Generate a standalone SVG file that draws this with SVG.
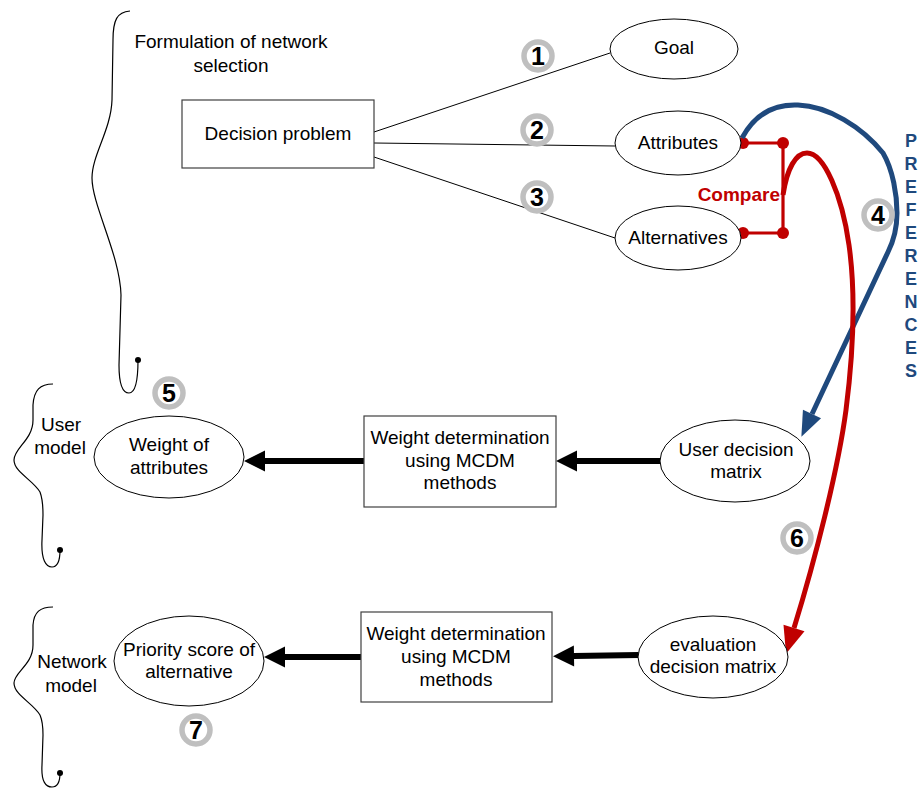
<svg xmlns="http://www.w3.org/2000/svg" width="919" height="790" viewBox="0 0 919 790">
  <style>
    text { font-family: "Liberation Sans", Arial, sans-serif; font-size: 19px; fill: #000; }
    .mid { text-anchor: middle; }
    .box { fill: #fff; stroke: #404040; stroke-width: 1.2; }
    .ell { fill: #fff; stroke: #000; stroke-width: 1; }
    .brace { fill: none; stroke: #000; stroke-width: 1.2; }
    .thin { fill: none; stroke: #000; stroke-width: 1; }
    .flow { fill: none; stroke: #000; stroke-width: 6; stroke-linecap: round; }
    .badge circle { fill: #fff; stroke: #bfbfbf; stroke-width: 5.5; }
    .badge text { font-weight: bold; font-size: 25px; text-anchor: middle; }
    .cmp { fill: none; stroke: #c00000; stroke-width: 3.2; }
    .dot { fill: #c00000; }
    .pref { font-weight: bold; font-size: 18px; fill: #1f497d; text-anchor: middle; }
  </style>
  <defs>
    <marker id="headBlack" markerUnits="userSpaceOnUse" markerWidth="22" markerHeight="22" refX="0" refY="10.5" orient="auto" overflow="visible">
      <path d="M0,0 L21,10.5 L0,21 Z" fill="#000"/>
    </marker>
    <marker id="headBlue" markerUnits="userSpaceOnUse" markerWidth="26" markerHeight="22" refX="0" refY="10" orient="auto" overflow="visible">
      <path d="M0,0 L25,10 L0,20 Z" fill="#1f497d"/>
    </marker>
    <marker id="headRed" markerUnits="userSpaceOnUse" markerWidth="28" markerHeight="24" refX="0" refY="11" orient="auto" overflow="visible">
      <path d="M0,0 L27,11 L0,22 Z" fill="#c00000"/>
    </marker>
  </defs>

  <!-- braces and group labels -->
  <g id="formulation">
    <path class="brace" d="M130,11 C117,12 113,20 113,40 L112,100 C111,130 92,155 92,178 C92,205 120,255 121,295 L119,365 C119,385 123,393 129,393 C136,393 138,378 138,360"/>
    <circle cx="138" cy="360" r="3" fill="#000"/>
    <text class="mid" x="231" y="48">Formulation of network</text>
    <text class="mid" x="231" y="72">selection</text>
  </g>
  <g id="user-model">
    <path class="brace" d="M53,384 C40,384 34,390 33,405 L33,420 C33,440 14,448 14,460 C14,472 33,480 40,492 C43,500 43,507 43,515 L42,540 C41,560 46,567 52,567 C58,567 60,560 60,550"/>
    <circle cx="60" cy="550" r="3" fill="#000"/>
    <text class="mid" x="61" y="431">User</text>
    <text class="mid" x="60" y="454">model</text>
  </g>
  <g id="network-model">
    <path class="brace" d="M53,607 C40,607 34,612 33,625 L33,645 C33,665 14,672 14,683 C14,695 33,703 40,715 C43,722 43,728 43,735 L42,765 C41,782 46,787 52,787 C58,787 60,782 60,773"/>
    <circle cx="60" cy="773" r="3" fill="#000"/>
    <text class="mid" x="72" y="668">Network</text>
    <text class="mid" x="71" y="692">model</text>
  </g>

  <!-- connectors -->
  <g id="connectors">
    <line class="thin" x1="374" y1="132" x2="610" y2="53"/>
    <line class="thin" x1="374" y1="143" x2="615" y2="146"/>
    <line class="thin" x1="374" y1="157" x2="615" y2="238"/>

    <!-- compare bracket -->
    <path class="cmp" d="M743,143 L783,143 L783,233 L743,233"/>
    <circle class="dot" cx="743" cy="143" r="6"/>
    <circle class="dot" cx="783" cy="143" r="6"/>
    <circle class="dot" cx="783" cy="233" r="6"/>
    <circle class="dot" cx="743" cy="233" r="6"/>

    <!-- preferences flow -->
    <path fill="none" stroke="#1f497d" stroke-width="5" d="M742,138 C756,112 776,104 798,105 C828,106 862,127 883,153 C893,170 897,195 897,213 C897,230 893,242 888,252 L812,414" marker-end="url(#headBlue)"/>
    <!-- evaluation flow -->
    <path fill="none" stroke="#c00000" stroke-width="5" d="M783,195 C787,168 796,153 807,153 C824,153 842,195 849,245 C856,295 853,355 846,410 C838,470 815,560 794,628" marker-end="url(#headRed)"/>

    <line class="flow" x1="364" y1="461" x2="265" y2="461" marker-end="url(#headBlack)"/>
    <line class="flow" x1="660" y1="461" x2="577" y2="461" marker-end="url(#headBlack)"/>
    <line class="flow" x1="361" y1="657" x2="285" y2="657" marker-end="url(#headBlack)"/>
    <line class="flow" x1="639" y1="655" x2="574" y2="656" marker-end="url(#headBlack)"/>
  </g>

  <!-- nodes -->
  <g id="decision-problem">
    <rect class="box" x="182" y="100" width="192" height="68"/>
    <text class="mid" x="278" y="140">Decision problem</text>
  </g>
  <g id="goal">
    <ellipse class="ell" cx="674" cy="49" rx="64" ry="30"/>
    <text class="mid" x="674" y="54">Goal</text>
  </g>
  <g id="attributes">
    <ellipse class="ell" cx="678" cy="143" rx="63" ry="32"/>
    <text class="mid" x="678" y="149">Attributes</text>
  </g>
  <g id="alternatives">
    <ellipse class="ell" cx="678" cy="238" rx="63" ry="32"/>
    <text class="mid" x="678" y="244">Alternatives</text>
  </g>
  <g id="compare-label">
    <text x="780" y="201" text-anchor="end" font-weight="bold" style="fill:#c00000">Compare</text>
  </g>
  <g id="preferences-label">
    <text class="pref" x="911" y="147">P</text>
    <text class="pref" x="911" y="170">R</text>
    <text class="pref" x="911" y="193">E</text>
    <text class="pref" x="911" y="216">F</text>
    <text class="pref" x="911" y="239">E</text>
    <text class="pref" x="911" y="262">R</text>
    <text class="pref" x="911" y="285">E</text>
    <text class="pref" x="911" y="308">N</text>
    <text class="pref" x="911" y="331">C</text>
    <text class="pref" x="911" y="354">E</text>
    <text class="pref" x="911" y="377">S</text>
  </g>
  <g id="weight-of-attributes">
    <ellipse class="ell" cx="169" cy="457" rx="75" ry="41"/>
    <text class="mid" x="169" y="451">Weight of</text>
    <text class="mid" x="169" y="474">attributes</text>
  </g>
  <g id="weight-determination-user">
    <rect class="box" x="364" y="416" width="192" height="91"/>
    <text class="mid" x="460" y="444">Weight determination</text>
    <text class="mid" x="460" y="467">using MCDM</text>
    <text class="mid" x="460" y="489">methods</text>
  </g>
  <g id="user-decision-matrix">
    <ellipse class="ell" cx="735" cy="461" rx="75" ry="41"/>
    <text class="mid" x="736" y="456">User decision</text>
    <text class="mid" x="736" y="478">matrix</text>
  </g>
  <g id="priority-score">
    <ellipse class="ell" cx="189" cy="661" rx="75" ry="45"/>
    <text class="mid" x="189" y="656">Priority score of</text>
    <text class="mid" x="189" y="678">alternative</text>
  </g>
  <g id="weight-determination-network">
    <rect class="box" x="361" y="612" width="191" height="90"/>
    <text class="mid" x="456" y="640">Weight determination</text>
    <text class="mid" x="456" y="663">using MCDM</text>
    <text class="mid" x="456" y="686">methods</text>
  </g>
  <g id="evaluation-decision-matrix">
    <ellipse class="ell" cx="713" cy="657" rx="75" ry="41"/>
    <text class="mid" x="713" y="651">evaluation</text>
    <text class="mid" x="713" y="673">decision matrix</text>
  </g>

  <!-- step badges -->
  <g id="badge-1" class="badge"><circle cx="538" cy="56" r="14"/><text x="538" y="65">1</text></g>
  <g id="badge-2" class="badge"><circle cx="537" cy="130" r="14"/><text x="537" y="139">2</text></g>
  <g id="badge-3" class="badge"><circle cx="537" cy="197" r="14"/><text x="537" y="206">3</text></g>
  <g id="badge-4" class="badge"><circle cx="878" cy="215" r="14"/><text x="878" y="224">4</text></g>
  <g id="badge-5" class="badge"><circle cx="169" cy="393" r="14"/><text x="169" y="402">5</text></g>
  <g id="badge-6" class="badge"><circle cx="797" cy="538" r="14"/><text x="797" y="547">6</text></g>
  <g id="badge-7" class="badge"><circle cx="196" cy="730" r="14"/><text x="196" y="739">7</text></g>
</svg>
